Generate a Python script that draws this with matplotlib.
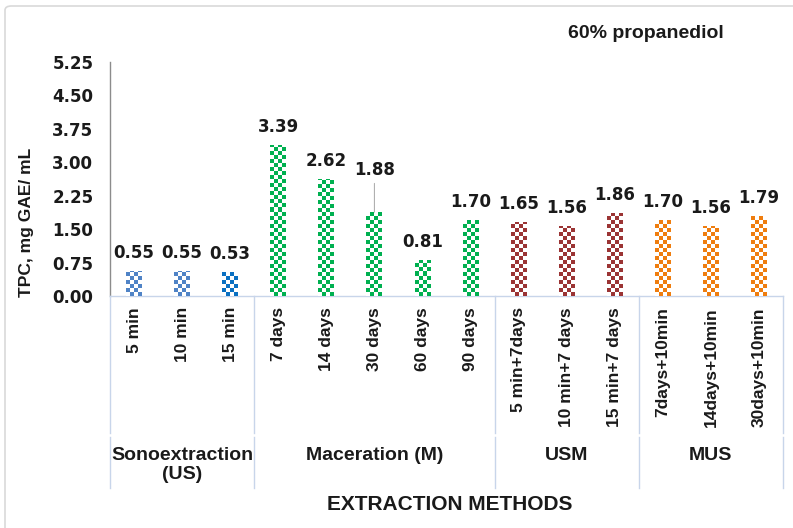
import numpy as np
import matplotlib
matplotlib.use("Agg")
import matplotlib.pyplot as plt
from matplotlib.colors import ListedColormap
from matplotlib.lines import Line2D
from matplotlib.patches import FancyBboxPatch
import matplotlib.transforms as mtransforms

# ---- data -------------------------------------------------------------
methods = ["5 min", "10 min", "15 min",
           "7 days", "14 days", "30 days", "60 days", "90 days",
           "5 min+7days", "10 min+7 days", "15 min+7 days",
           "7days+10min", "14days+10min", "30days+10min"]
tpc = [0.55, 0.55, 0.53,
       3.39, 2.62, 1.88, 0.81, 1.70,
       1.65, 1.56, 1.86,
       1.70, 1.56, 1.79]
groups = ["Sonoextraction\n(US)", "Maceration (M)", "USM", "MUS"]
group_sizes = [3, 5, 3, 3]
y_ticks = [0.00, 0.75, 1.50, 2.25, 3.00, 3.75, 4.50, 5.25]

# ---- styling ----------------------------------------------------------
bar_colors = ["#4F83C6", "#4F83C6", "#0A70C2",
              "#00B050", "#00B050", "#00B050", "#00B050", "#00B050",
              "#9B3434", "#9B3434", "#9B3434",
              "#EF7D0E", "#EF7D0E", "#EF7D0E"]
label_offset_px = 18
leader_offset_px = {5: 42}   # labels pulled up with a leader line
TXT = "Liberation Sans"
NUM = "DejaVu Sans"

W, H = 793, 528
fig = plt.figure(figsize=(W / 100, H / 100), dpi=100)
fig.patch.set_facecolor("white")

# chart-area frame
fig.patches.append(FancyBboxPatch((5 / W, -0.05), 1.2, 1.0 - 6 / H + 0.05,
                                  boxstyle="round,pad=0,rounding_size=0.008",
                                  transform=fig.transFigure, facecolor="none",
                                  edgecolor="#D9D9D9", linewidth=1.2))

ax_l, ax_r, ax_t, ax_b = 110, 783, 62, 296
ax = fig.add_axes([ax_l / W, 1 - ax_b / H, (ax_r - ax_l) / W, (ax_b - ax_t) / H])
ax.set_facecolor("none")

x = np.arange(len(methods))
bars = ax.bar(x, tpc, width=0.33, color="white", edgecolor="none", zorder=2)
ax.set_xlim(-0.5, len(methods) - 0.5)
ax.set_ylim(0, 5.25)

# checkerboard fill for each bar
p0 = ax.transData.transform((0, 0))
p1 = ax.transData.transform((1, 1))
px_x, px_y = p1[0] - p0[0], p1[1] - p0[1]
cell = 4.0
for bar, col in zip(bars, bar_colors):
    bx, bw, bh = bar.get_x(), bar.get_width(), bar.get_height()
    ncols = max(1, int(round(bw * px_x / cell)))
    nrows = int(np.ceil(bh * px_y / cell))
    board = np.add.outer(np.arange(nrows), np.arange(ncols)) % 2
    im = ax.imshow(board, cmap=ListedColormap(["white", col]), vmin=0, vmax=1,
                   extent=(bx, bx + bw, 0, nrows * cell / px_y), origin="lower",
                   interpolation="nearest", aspect="auto", zorder=3)
    im.set_clip_path(bar)
ax.set_xlim(-0.5, len(methods) - 0.5)
ax.set_ylim(0, 5.25)

# value labels
for i, (bar, v) in enumerate(zip(bars, tpc)):
    cx = bar.get_x() + bar.get_width() / 2
    if i in leader_offset_px:
        ax.annotate(f"{v:.2f}", xy=(cx, v), xytext=(0, leader_offset_px[i]),
                    textcoords="offset pixels", ha="center", va="center",
                    fontsize=12, fontweight="bold", family=NUM, color="#1A1A1A",
                    arrowprops=dict(arrowstyle="-", color="#A6A6A6", lw=0.7,
                                    shrinkA=1, shrinkB=0))
    else:
        ax.annotate(f"{v:.2f}", xy=(cx, v), xytext=(0, label_offset_px),
                    textcoords="offset pixels", ha="center", va="center",
                    fontsize=12, fontweight="bold", family=NUM, color="#1A1A1A")

# axes styling
for s in ("top", "right"):
    ax.spines[s].set_visible(False)
ax.spines["left"].set_color("#8C8C8C")
ax.spines["left"].set_linewidth(1.0)
ax.spines["bottom"].set_color("#C8D5EA")
ax.spines["bottom"].set_linewidth(1.0)

ax.set_yticks(y_ticks)
ax.set_yticklabels([f"{t:.2f}" for t in y_ticks], fontsize=12,
                   fontweight="bold", family=NUM, color="#1A1A1A")
ax.tick_params(axis="y", length=0, pad=12)
ax.set_xticks(x)
ax.set_xticklabels(methods, rotation=90, fontsize=12.5, fontweight="bold",
                   family=TXT, color="#1A1A1A", ha="center", va="top")
ax.tick_params(axis="x", length=0, pad=8)

# two-level category axis: group separators and group names
blend = mtransforms.blended_transform_factory(ax.transData, fig.transFigure)
edges = np.concatenate([[0], np.cumsum(group_sizes)]) - 0.5
for e in edges:
    for (ya, yb) in ((296, 433), (437, 488)):
        fig.add_artist(Line2D([e, e], [1 - ya / H, 1 - yb / H], transform=blend,
                              color="#C8D5EA", linewidth=1.0, clip_on=False))
for g, a, b in zip(groups, edges[:-1], edges[1:]):
    fig.text((a + b) / 2, 1 - 447 / H, g, transform=blend, ha="center",
             va="top", fontsize=14, fontweight="bold", family=TXT,
             color="#1A1A1A", linespacing=1.15)

fig.text(450 / W, 1 - 505 / H, "EXTRACTION METHODS", ha="center", va="center",
         fontsize=15, fontweight="bold", family=TXT, color="#1A1A1A")
fig.text(27 / W, 1 - 222 / H, "TPC, mg GAE/ mL", rotation=90, ha="center",
         va="center", fontsize=12.5, fontweight="bold", family=TXT,
         color="#1A1A1A")
fig.text(646 / W, 1 - 33 / H, "60% propanediol", ha="center", va="center",
         fontsize=14, fontweight="bold", family=TXT, color="#1A1A1A")

fig.savefig("out.png", dpi=100, facecolor="white")
